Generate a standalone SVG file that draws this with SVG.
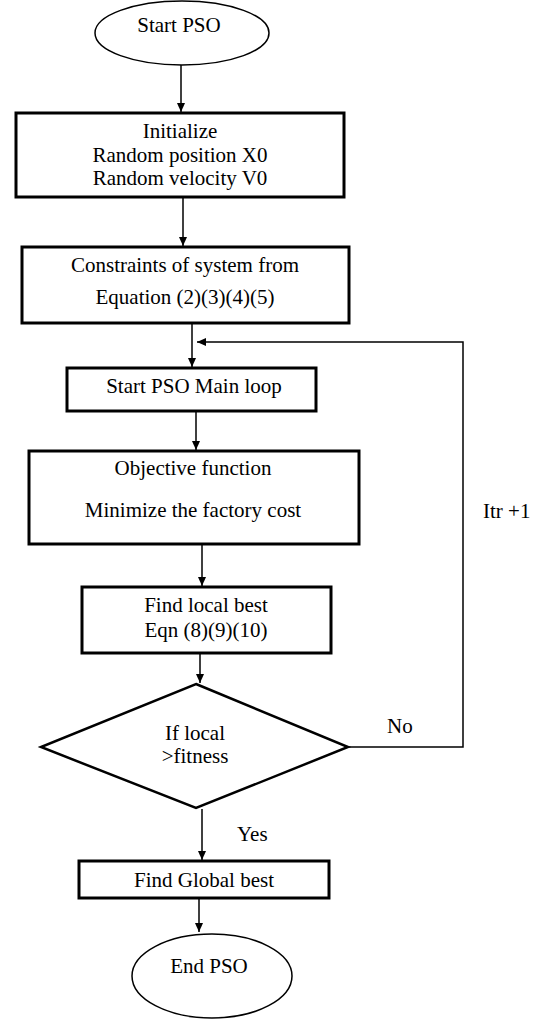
<svg xmlns="http://www.w3.org/2000/svg" width="553" height="1019" viewBox="0 0 553 1019">
<defs>
<style>
text{font-family:'Liberation Serif','Times New Roman','DejaVu Serif',serif;font-size:21px;fill:#000;text-anchor:middle}
.box{fill:#fff;stroke:#000;stroke-width:3}
.term{fill:#fff;stroke:#000;stroke-width:1.5}
.dec{fill:#fff;stroke:#000;stroke-width:2.5}
.con{fill:none;stroke:#000;stroke-width:1.5}
.lbl{text-anchor:start}
</style>
<marker id="ah" markerWidth="10" markerHeight="10" refX="9" refY="5" orient="auto" markerUnits="userSpaceOnUse">
<path d="M0,1 L9,5 L0,9 Z" fill="#000"/>
</marker>
</defs>
<rect width="553" height="1019" fill="#fff"/>
<g id="connectors">
<line class="con" x1="181" y1="65" x2="181" y2="112" marker-end="url(#ah)"/>
<line class="con" x1="183" y1="197" x2="183" y2="246" marker-end="url(#ah)"/>
<line class="con" x1="192" y1="323" x2="192" y2="367" marker-end="url(#ah)"/>
<line class="con" x1="196" y1="411" x2="196" y2="450" marker-end="url(#ah)"/>
<line class="con" x1="202" y1="544" x2="202" y2="586" marker-end="url(#ah)"/>
<line class="con" x1="200" y1="653" x2="200" y2="683" marker-end="url(#ah)"/>
<line class="con" x1="202" y1="809" x2="202" y2="860" marker-end="url(#ah)"/>
<line class="con" x1="199" y1="898" x2="199" y2="932" marker-end="url(#ah)"/>
<polyline class="con" points="348,747 463,747 463,342 197,342" marker-end="url(#ah)"/>
</g>
<g id="start">
<ellipse class="term" cx="182" cy="33" rx="87" ry="32"/>
<text x="179" y="32">Start PSO</text>
</g>
<g id="init">
<rect class="box" x="16" y="113" width="328" height="84"/>
<text x="180" y="138">Initialize</text>
<text x="180" y="162">Random position X0</text>
<text x="180" y="185">Random velocity V0</text>
</g>
<g id="constraints">
<rect class="box" x="22" y="247" width="327" height="76"/>
<text x="185" y="272">Constraints of system from</text>
<text x="185" y="304">Equation (2)(3)(4)(5)</text>
</g>
<g id="mainloop">
<rect class="box" x="67" y="368" width="249" height="43"/>
<text x="194" y="393">Start PSO Main loop</text>
</g>
<g id="objective">
<rect class="box" x="29" y="451" width="330" height="93"/>
<text x="193" y="475">Objective function</text>
<text x="193" y="517">Minimize the factory cost</text>
</g>
<g id="localbest">
<rect class="box" x="82" y="587" width="249" height="66"/>
<text x="206" y="612">Find local best</text>
<text x="206" y="637">Eqn (8)(9)(10)</text>
</g>
<g id="decision">
<polygon class="dec" points="196,684 348,747 196,808 41,747"/>
<text x="195" y="740">If local</text>
<text x="195" y="763">&gt;fitness</text>
</g>
<g id="globalbest">
<rect class="box" x="79" y="861" width="250" height="37"/>
<text x="204" y="887">Find Global best</text>
</g>
<g id="end">
<ellipse class="term" cx="212" cy="976" rx="80" ry="42"/>
<text x="209" y="973">End PSO</text>
</g>
<g id="labels">
<text class="lbl" x="387" y="733">No</text>
<text class="lbl" x="237" y="841">Yes</text>
<text class="lbl" x="483" y="518">Itr +1</text>
</g>
</svg>
